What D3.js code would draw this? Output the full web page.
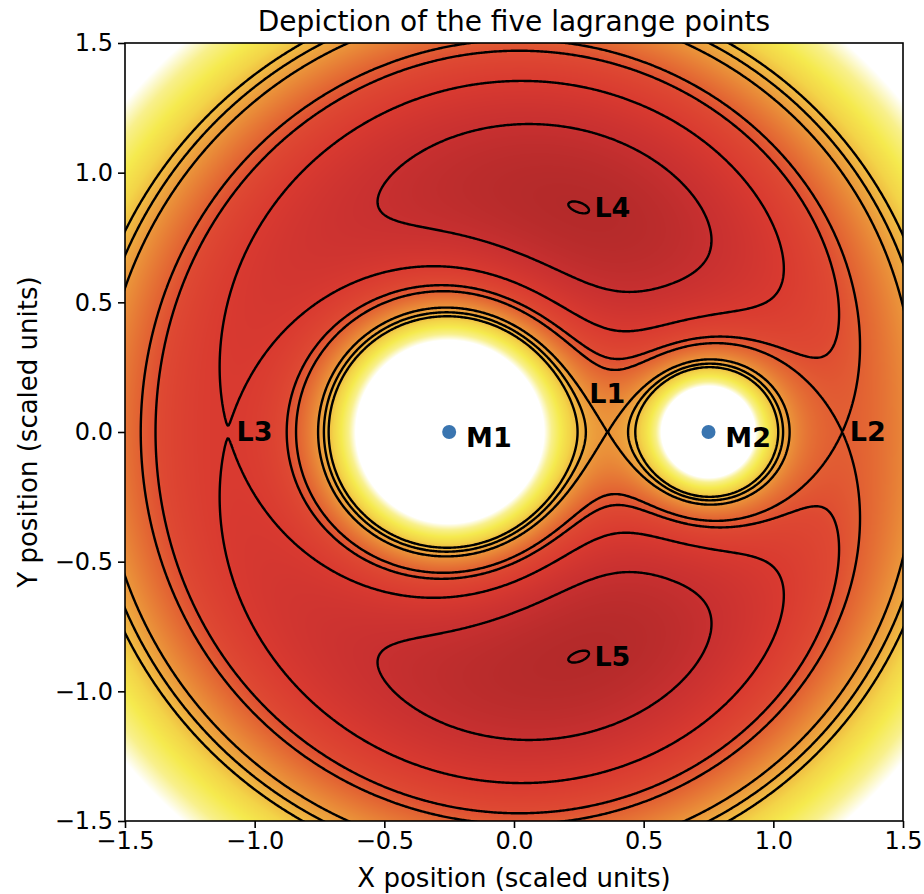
<!DOCTYPE html>
<html>
<head>
<meta charset="utf-8">
<script src="https://cdn.jsdelivr.net/npm/d3@7"></script>
<style>
  body { margin: 0; background: #fff; }
  text { font-family: "DejaVu Sans", sans-serif; }
</style>
</head>
<body>
<svg id="chart" width="924" height="894"></svg>
<script>
// mass of the smaller body (M2), total mass = 1
var massRatio = [0.25];
var bodyNames = ["M1", "M2"];
var bodyX = [-0.25, 0.75];
var bodyY = [0, 0];

var lagrangeNames = ["L1", "L2", "L3", "L4", "L5"];
var lagrangeX = [0.3607, 1.266, -1.103, 0.25, 0.25];
var lagrangeY = [0, 0, 0, 0.866, -0.866];

// where the labels sit (data units)
var labelX = [0.29, 1.295, -1.07, 0.31, 0.31];
var labelY = [0.148, 0, 0, 0.866, -0.866];

// contour levels of the effective potential
var contourLevels = [1.4067, 1.50, 1.6224, 1.735, 1.7806, 1.9354, 1.99, 2.04];

var tickValues = [-1.5, -1.0, -0.5, 0.0, 0.5, 1.0, 1.5];

// colour stops of the heat map
var colorStops = [1.406, 1.50, 1.62, 1.72, 1.80, 1.90, 2.00, 2.10, 2.20, 2.32, 2.45];
var colorValues = ["#b42a2a", "#c83030", "#d93a30", "#de4832", "#e36633", "#e98a38",
                   "#eead3f", "#f3d448", "#f5ea4e", "#f8f08c", "#ffffff"];

var mu = massRatio[0];
function potential(x, y) {
    var r1 = Math.sqrt((x - bodyX[0]) * (x - bodyX[0]) + y * y);
    var r2 = Math.sqrt((x - bodyX[1]) * (x - bodyX[1]) + y * y);
    var v = (1 - mu) / r1 + mu / r2 + 0.5 * (x * x + y * y);
    return Math.min(v, 10);
}

var margin = { left: 125, top: 43, right: 903, bottom: 821 };
var svg = d3.select("#chart");

var x = d3.scaleLinear().domain([-1.5, 1.5]).range([margin.left, margin.right]);
var y = d3.scaleLinear().domain([-1.5, 1.5]).range([margin.bottom, margin.top]);
var color = d3.scaleLinear().domain(colorStops).range(colorValues).clamp(true);

// heat map on a canvas, then put into the svg
var w = margin.right - margin.left, h = margin.bottom - margin.top;
var canvas = document.createElement("canvas");
canvas.width = w; canvas.height = h;
var ctx = canvas.getContext("2d");
var img = ctx.createImageData(w, h);
for (var j = 0; j < h; j++) {
    for (var i = 0; i < w; i++) {
        var c = d3.rgb(color(potential(x.invert(margin.left + i + 0.5), y.invert(margin.top + j + 0.5))));
        var k = (j * w + i) * 4;
        img.data[k] = c.r; img.data[k + 1] = c.g; img.data[k + 2] = c.b; img.data[k + 3] = 255;
    }
}
ctx.putImageData(img, 0, 0);

svg.append("defs").append("clipPath").attr("id", "plotclip")
    .append("rect").attr("x", margin.left).attr("y", margin.top).attr("width", w).attr("height", h);

svg.append("image")
    .attr("x", margin.left).attr("y", margin.top)
    .attr("width", w).attr("height", h)
    .attr("href", canvas.toDataURL());

// contour grid, a bit larger than the plot so no edge lines show
var n = 661, lo = -1.65, step = 3.3 / (n - 1);
var grid = new Float64Array(n * n);
for (var j = 0; j < n; j++) {
    for (var i = 0; i < n; i++) {
        grid[j * n + i] = potential(lo + i * step, -lo - j * step);
    }
}
var contours = d3.contours().size([n, n]).thresholds(contourLevels)(grid);
var path = d3.geoPath(d3.geoTransform({
    point: function (px, py) {
        this.stream.point(x(lo + (px - 0.5) * step), y(-lo - (py - 0.5) * step));
    }
}));

svg.append("g")
    .attr("clip-path", "url(#plotclip)")
    .selectAll("path")
    .data(contours)
    .enter().append("path")
    .attr("d", path)
    .attr("fill", "none")
    .attr("stroke", "#000")
    .attr("stroke-width", 2.4)
    .attr("stroke-linejoin", "round");

// the two bodies
svg.append("g").selectAll("circle")
    .data(bodyNames)
    .enter().append("circle")
    .attr("cx", function (d, i) { return x(bodyX[i]); })
    .attr("cy", function (d, i) { return y(bodyY[i]); })
    .attr("r", 7)
    .attr("fill", "#3a75b0");

svg.append("g").selectAll("text")
    .data(bodyNames)
    .enter().append("text")
    .attr("x", function (d, i) { return x(bodyX[i] + 0.065); })
    .attr("y", function (d, i) { return y(bodyY[i] - 0.02); })
    .attr("dy", "0.35em")
    .style("font-size", "27px")
    .style("font-weight", "bold")
    .text(function (d) { return d; });

svg.append("g").selectAll("text")
    .data(lagrangeNames)
    .enter().append("text")
    .attr("x", function (d, i) { return x(labelX[i]); })
    .attr("y", function (d, i) { return y(labelY[i]); })
    .attr("dy", "0.35em")
    .style("font-size", "27px")
    .style("font-weight", "bold")
    .text(function (d) { return d; });

// axes
var fmt = d3.format(".1f");
var xAxis = svg.append("g")
    .attr("transform", "translate(0," + margin.bottom + ")")
    .call(d3.axisBottom(x).tickValues(tickValues).tickFormat(fmt).tickSize(7).tickPadding(4));
var yAxis = svg.append("g")
    .attr("transform", "translate(" + margin.left + ",0)")
    .call(d3.axisLeft(y).tickValues(tickValues).tickFormat(fmt).tickSize(7).tickPadding(5));
[xAxis, yAxis].forEach(function (a) {
    a.select(".domain").remove();
    a.selectAll("line").attr("stroke", "#000").attr("stroke-width", 1.6);
    a.selectAll("text").style("font-size", "24px").attr("fill", "#000")
        .style("font-family", "DejaVu Sans");
});

svg.append("rect")
    .attr("x", margin.left).attr("y", margin.top)
    .attr("width", w).attr("height", h)
    .attr("fill", "none").attr("stroke", "#000").attr("stroke-width", 1.6);

svg.append("text")
    .attr("x", (margin.left + margin.right) / 2).attr("y", 31)
    .attr("text-anchor", "middle")
    .style("font-size", "28px")
    .text("Depiction of the five lagrange points");

svg.append("text")
    .attr("x", (margin.left + margin.right) / 2).attr("y", 887)
    .attr("text-anchor", "middle")
    .style("font-size", "26px")
    .text("X position (scaled units)");

svg.append("text")
    .attr("transform", "translate(37," + (margin.top + margin.bottom) / 2 + ")rotate(-90)")
    .attr("text-anchor", "middle")
    .style("font-size", "26px")
    .text("Y position (scaled units)");
</script>
</body>
</html>
